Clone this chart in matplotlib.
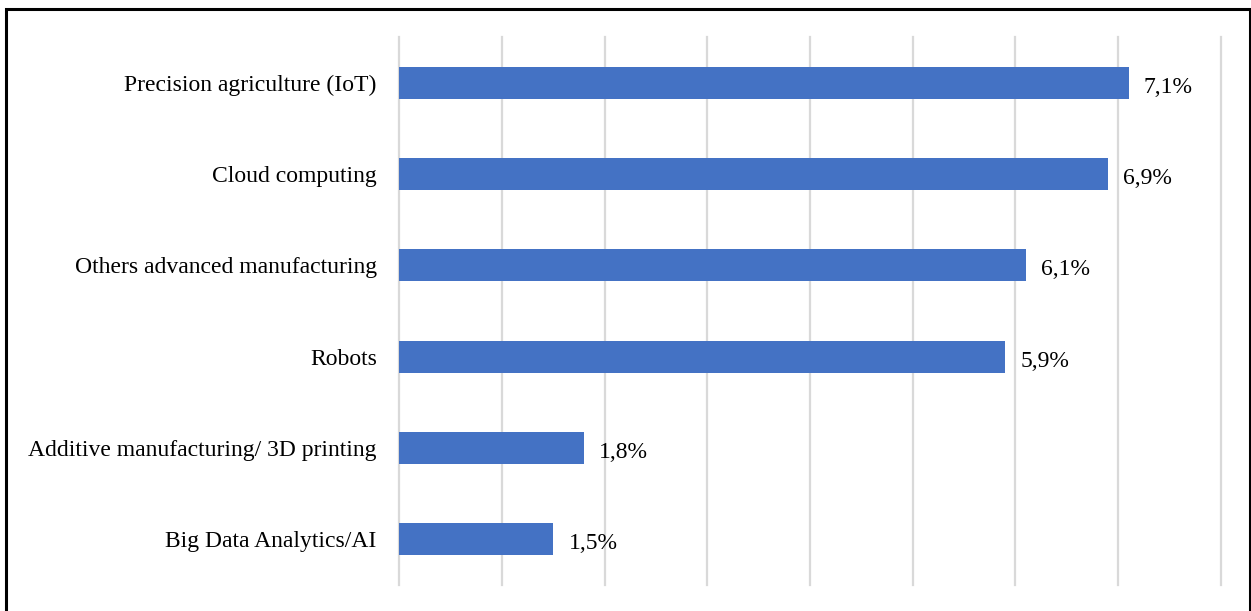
import matplotlib.pyplot as plt
from matplotlib.patches import Rectangle

# Data (top to bottom as shown)
categories = ['Precision agriculture (IoT)', 'Cloud computing', 'Others advanced manufacturing',
              'Robots', 'Additive manufacturing/ 3D printing', 'Big Data Analytics/AI']
values = [7.1, 6.9, 6.1, 5.9, 1.8, 1.5]
value_labels = ['7,1%', '6,9%', '6,1%', '5,9%', '1,8%', '1,5%']

plt.rcParams['font.family'] = ['Liberation Serif', 'DejaVu Serif']

fig = plt.figure(figsize=(12.51, 6.11), dpi=100)
ax = fig.add_axes([0.319, 0.0426, 0.657, 0.8968])

# Reverse so the first category is on top
ypos = list(range(len(categories)))[::-1]
ax.barh(ypos, values, height=0.35, color='#4472C4', zorder=3)

for y, v, lab in zip(ypos, values, value_labels):
    ax.annotate(lab, (v, y), xytext=(11, -1.5), textcoords='offset points',
                va='center_baseline', ha='left', fontsize=17, color='black')

ax.set_xlim(0, 8)
ax.set_ylim(-0.5, len(categories) - 0.5)
ax.set_xticks(range(0, 9))
ax.set_xticklabels([])
ax.set_yticks(ypos)
ax.set_yticklabels(categories, fontsize=17)
ax.tick_params(axis='both', length=0)
ax.tick_params(axis='y', pad=16)
ax.grid(axis='x', color='#D9D9D9', linewidth=1.6, zorder=0)
for gl in ax.get_xgridlines():
    gl.set_clip_on(False)
for s in ax.spines.values():
    s.set_visible(False)

# Outer frame around the chart
frame = Rectangle((0.0048, -0.05), 0.9944, 1.035, transform=fig.transFigure,
                  fill=False, edgecolor='black', linewidth=2.2, clip_on=False)
fig.patches.append(frame)

fig.savefig('out.png', dpi=100)
